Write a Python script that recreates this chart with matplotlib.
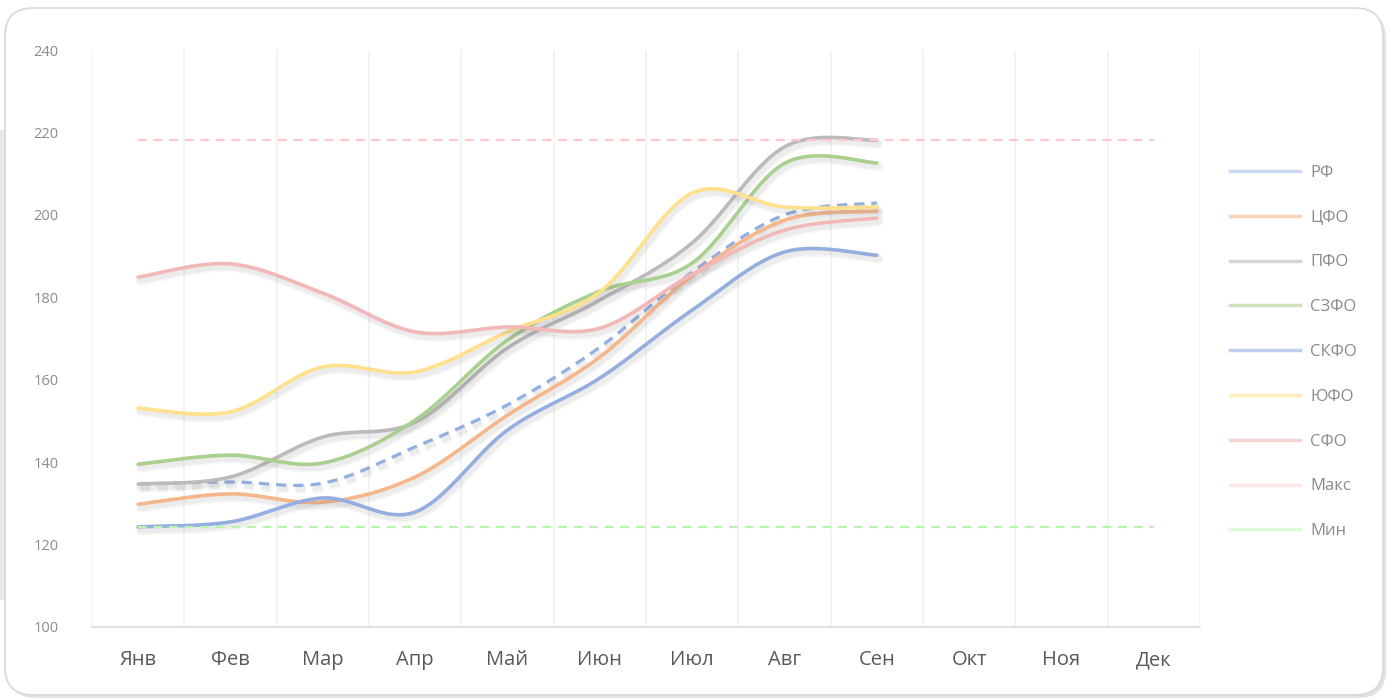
import numpy as np
import matplotlib
matplotlib.use('Agg')
import matplotlib.pyplot as plt
from matplotlib import patheffects as pe
from matplotlib.patches import FancyBboxPatch, Rectangle
from matplotlib.lines import Line2D

plt.rcParams['font.family'] = ['Open Sans', 'DejaVu Sans']

months = ['Янв', 'Фев', 'Мар', 'Апр', 'Май', 'Июн', 'Июл', 'Авг', 'Сен', 'Окт', 'Ноя', 'Дек']
yticks = [100, 120, 140, 160, 180, 200, 220, 240]

rf   = [134.7, 135.2, 134.9, 143.7, 153.9, 167.9, 186.1, 200.0, 202.9]
cfo  = [129.8, 132.3, 130.3, 136.4, 151.4, 165.5, 185.2, 198.7, 200.9]
pfo  = [134.7, 136.4, 146.1, 149.7, 167.7, 179.3, 193.2, 216.5, 218.1]
szfo = [139.5, 141.7, 139.8, 150.2, 169.6, 181.5, 188.3, 212.5, 212.6]
skfo = [124.3, 125.5, 131.3, 127.9, 147.8, 160.4, 176.9, 191.0, 190.2]
yufo = [153.1, 152.2, 163.1, 161.9, 171.6, 181.3, 205.3, 201.9, 201.9]
sfo  = [184.9, 188.1, 181.0, 171.6, 172.8, 172.5, 185.6, 196.3, 199.2]
max_level = 218.1
min_level = 124.3

labels = ['РФ', 'ЦФО', 'ПФО', 'СЗФО', 'СКФО', 'ЮФО', 'СФО', 'Макс', 'Мин']
colors = ['#94AEE0', '#F5B68C', '#BBBBBB', '#A9D08E', '#94AEE0', '#FFE08C', '#F2B8B8', '#FFC7C7', '#B9F3B0']


def smooth(y, n=40):
    x = np.arange(len(y), dtype=float)
    P = np.column_stack([x, np.asarray(y, dtype=float)])
    out = [P[0]]
    t = np.linspace(0, 1, n)[1:, None]
    for i in range(len(P) - 1):
        p0, p3 = P[i], P[i + 1]
        prev = P[i - 1] if i > 0 else P[i]
        nxt = P[i + 2] if i + 2 < len(P) else P[i + 1]
        c1 = p0 + (p3 - prev) / 6
        c2 = p3 - (nxt - p0) / 6
        B = (1 - t) ** 3 * p0 + 3 * (1 - t) ** 2 * t * c1 + 3 * (1 - t) * t ** 2 * c2 + t ** 3 * p3
        out.extend(B)
    out = np.array(out)
    return out[:, 0], out[:, 1]


W, H = 1388, 700
fig = plt.figure(figsize=(W / 100, H / 100), dpi=100)
fig.patch.set_facecolor('white')

# background strip and card
fig.add_artist(Rectangle((0, (H - 600) / 100), 0.07, 4.7, transform=fig.dpi_scale_trans,
                         fc='#e9e9e9', ec='none', zorder=0))
fig.add_artist(FancyBboxPatch((0.08, 0.02), 13.78, 6.87, boxstyle='round,pad=0,rounding_size=0.28',
                              transform=fig.dpi_scale_trans, fc='#cfcfcf', ec='none', alpha=0.6, zorder=0.5))
fig.add_artist(FancyBboxPatch((0.05, 0.05), 13.78, 6.87, boxstyle='round,pad=0,rounding_size=0.28',
                              transform=fig.dpi_scale_trans, fc='white', ec='#dadada', lw=1.3, zorder=1))

ax = fig.add_axes([92 / W, 73 / H, 1108 / W, 577 / H])
ax.set_facecolor('none')
ax.set_zorder(2)
ax.set_xlim(-0.5, 11.5)
ax.set_ylim(100, 240)

ax.set_xticks(range(len(months)))
ax.set_xticklabels(months, fontsize=14.5, color='#595959')
ax.set_xticks(np.arange(-0.5, 12, 1), minor=True)
ax.set_yticks(yticks)
ax.set_yticklabels([str(v) for v in yticks], fontsize=10.5, color='#8c8c8c')
ax.tick_params(axis='x', which='both', length=0, pad=16.5)
ax.tick_params(axis='y', length=0, pad=24)
ax.grid(which='minor', axis='x', color='#f1f1f1', lw=1.2)
ax.grid(which='major', axis='both', visible=False)
for s in ['left', 'right', 'top']:
    ax.spines[s].set_visible(False)
ax.spines['bottom'].set_color('#d9dbe6')
ax.spines['bottom'].set_linewidth(1.2)

shadow = [pe.SimpleLineShadow(offset=(1.5, -2.5), shadow_color='#666666', alpha=0.05, linewidth=7),
          pe.SimpleLineShadow(offset=(1.5, -2.5), shadow_color='#666666', alpha=0.07, linewidth=4.5),
          pe.Normal()]

series = [rf, cfo, pfo, szfo, skfo, yufo, sfo]
for i, (vals, col) in enumerate(zip(series, colors[:7])):
    xs, ys = smooth(vals)
    if i == 0:
        ax.plot(xs, ys, color=col, lw=2.3, dashes=(3.2, 2.2), path_effects=shadow, zorder=3 + i,
                solid_capstyle='round')
    else:
        ax.plot(xs, ys, color=col, lw=2.6, path_effects=shadow, zorder=3 + i, solid_capstyle='round')

mx = np.arange(len(months))
ax.plot(mx, [max_level] * len(months), color=colors[7], lw=1.6, dashes=(4, 3), zorder=12)
ax.plot(mx, [min_level] * len(months), color=colors[8], lw=1.6, dashes=(4, 3), zorder=12)

handles = []
for i, col in enumerate(colors):
    if i in (0, 7, 8):
        handles.append(Line2D([], [], color=col, lw=2.5, alpha=0.45))
    else:
        handles.append(Line2D([], [], color=col, lw=2.5, alpha=0.6))
fig.legend(handles, labels, loc='center left', bbox_to_anchor=(1230 / W, 1 - 352 / H),
           frameon=False, fontsize=12, labelcolor='#8a8a8a', handlelength=4.2, handletextpad=0.6,
           labelspacing=1.73, borderpad=0, borderaxespad=0)

fig.savefig('out.png', dpi=100, facecolor='white')
